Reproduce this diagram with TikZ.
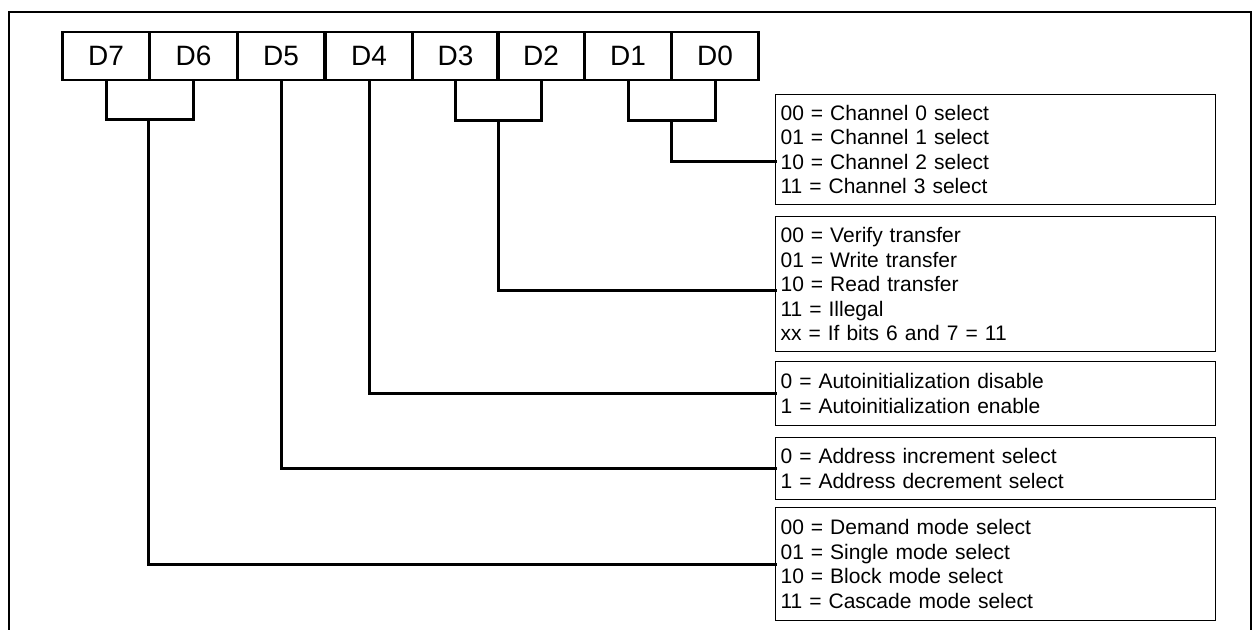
\documentclass[tikz,border=0pt]{standalone}
\usepackage{fontspec}
\setmainfont{Liberation Sans}
\begin{document}
\begin{tikzpicture}[x=1pt,y=-1pt]
\tikzset{
  bit/.style={draw, line width=2.4pt, minimum width=87pt, minimum height=48pt, inner sep=0pt, font=\fontsize{28}{30}\selectfont},
  info/.style={draw, line width=1.2pt, anchor=north west, inner xsep=5pt, inner ysep=0pt, align=left, text width=430pt, font=\fontsize{21}{24.5}\selectfont},
  conn/.style={line width=3pt, line cap=rect},
  frame/.style={line width=2.5pt}
}
\useasboundingbox (0,0) rectangle (1257,629);
\clip (0,0) rectangle (1257,629);
\fill[white] (0,0) rectangle (1257,629);
\draw[frame] (9,660) -- (9,12) -- (1251,12) -- (1251,660);

\node[bit] (d7) at (106,56) {D7};
\node[bit] (d6) at (193.5,56) {D6};
\node[bit] (d5) at (281,56) {D5};
\node[bit] (d4) at (369,56) {D4};
\node[bit] (d3) at (455.5,56) {D3};
\node[bit] (d2) at (541,56) {D2};
\node[bit] (d1) at (628,56) {D1};
\node[bit] (d0) at (715,56) {D0};

\node[info, minimum height=110pt] (chan) at (775,94) {00 = Channel 0 select\\01 = Channel 1 select\\10 = Channel 2 select\\11 = Channel 3 select};
\node[info, minimum height=135pt] (xfer) at (775,216) {00 = Verify transfer\\01 = Write transfer\\10 = Read transfer\\11 = Illegal\\xx = If bits 6 and 7 = 11};
\node[info, minimum height=64pt] (auto) at (775,361) {0 = Autoinitialization disable\\1 = Autoinitialization enable};
\node[info, minimum height=62pt] (addr) at (775,437) {0 = Address increment select\\1 = Address decrement select};
\node[info, minimum height=113pt] (mode) at (775,507) {00 = Demand mode select\\01 = Single mode select\\10 = Block mode select\\11 = Cascade mode select};

\coordinate (b76) at (148,119);
\coordinate (b32) at (498,120);
\coordinate (b10) at (671,120);

\draw[conn] (d7.south) |- (b76) -| (d6.south);
\draw[conn] (b76) |- (mode.west);
\draw[conn] (d5.south) |- (addr.west);
\draw[conn] (d4.south) |- (auto.west);
\draw[conn] (d3.south) |- (b32) -| (d2.south);
\draw[conn] (b32) |- ([yshift=-6.5pt]xfer.west);
\draw[conn] (d1.south) |- (b10) -| (d0.south);
\draw[conn] (b10) |- ([yshift=-12pt]chan.west);
\end{tikzpicture}
\end{document}
